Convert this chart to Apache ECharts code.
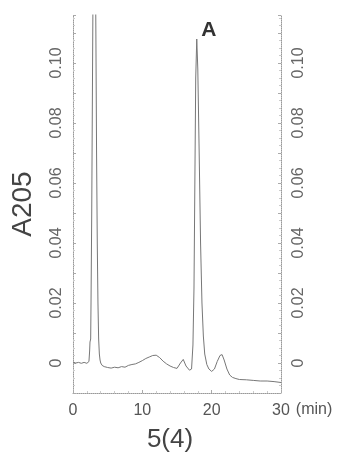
<!DOCTYPE html>
<html>
<head>
<meta charset="utf-8">
<script src="https://cdn.jsdelivr.net/npm/echarts@6/dist/echarts.min.js"></script>
<style>
	html, body { margin: 0; padding: 0; background: #fff; }
	#chart { width: 340px; height: 458px; }
</style>
</head>
<body>
<div id="chart"></div>
<script>
"use strict";

/*****Data start*****/
var times = [0, 0.4, 0.8, 1.2, 1.6, 2.0, 2.3, 2.4, 2.45, 2.5, 2.55, 2.6, 2.7, 2.8, 2.9, 3.0, 3.1, 3.2, 3.3, 3.4,
	3.5, 3.6, 3.7, 3.8, 3.9, 4.0, 4.2, 4.5, 5.0, 5.5, 6.0, 6.5, 7.0, 7.5, 8.0, 8.5, 9.0, 9.5, 10, 10.5,
	11, 11.5, 12, 12.5, 13, 13.5, 14, 14.5, 15, 15.5, 15.9, 16.3, 16.8, 17.1, 17.3, 17.45, 17.7, 17.85, 18.0, 18.2,
	18.4, 18.6, 18.8, 19.0, 19.3, 19.6, 20.0, 20.4, 20.8, 21.2, 21.5, 21.8, 22.2, 22.6, 23, 23.5, 24, 25, 26, 27,
	28, 29, 30];
var absorbance = [0.0003, 0.0000, 0.0002, -0.0001, 0.0002, -0.0001, 0.0005, 0.004, 0.007, 0.0065, 0.008, 0.02, 0.05, 0.09, 0.13, 0.2, 0.2, 0.15, 0.11, 0.07,
	0.04, 0.02, 0.008, 0.003, 0.001, 0.0, -0.0008, -0.0012, -0.0015, -0.0017, -0.0014, -0.0016, -0.0012, -0.0014, -0.0008, -0.0005, -0.0003, 0.0002, 0.0008, 0.0015,
	0.002, 0.0025, 0.0026, 0.0018, 0.0006, -0.0003, -0.001, -0.0015, -0.0018, 0.0, 0.0012, -0.001, -0.0024, -0.002, 0.006, 0.025, 0.095, 0.108, 0.098, 0.07,
	0.04, 0.02, 0.009, 0.003, -0.0005, -0.002, -0.0028, -0.002, 0.0005, 0.0025, 0.0028, 0.001, -0.002, -0.004, -0.0048, -0.0052, -0.0055, -0.0056, -0.0058, -0.006,
	-0.006, -0.0062, -0.0065];
var peakLabel = 'A';
var peakTime = 17.85;
var peakValue = 0.108;
var sampleName = '5(4)';
/*****Data end*****/

var points = [];
for (var i = 0; i < times.length; i++) {
	points.push([times[i], absorbance[i]]);
}

var fontFamily = "'Liberation Sans', Arial, sans-serif";

var yLabel = function (v) {
	var k = Math.round(v * 100);
	if (k < 0 || k > 10 || k % 2) return '';
	return k === 0 ? '0' : (k / 100).toFixed(2);
};

var yAxisBase = function (pos) {
	return {
		type: 'value',
		position: pos,
		min: -0.01,
		max: 0.116,
		interval: 0.01,
		axisLine: {
			show: true,
			onZero: false,
			lineStyle: { color: '#999', type: 'dotted', width: 1 }
		},
		axisTick: {
			show: true,
			inside: true,
			length: 3,
			lineStyle: { color: '#aaa' }
		},
		minorTick: {
			show: true,
			splitNumber: 4,
			length: 2,
			lineStyle: { color: '#ccc' }
		},
		splitLine: { show: false },
		axisLabel: {
			rotate: 90,
			margin: 10,
			color: '#666',
			fontSize: 16,
			fontFamily: fontFamily,
			formatter: yLabel
		}
	};
};

var leftAxis = yAxisBase('left');
leftAxis.axisLabel.margin = 8;
leftAxis.name = 'A205';
leftAxis.nameLocation = 'middle';
leftAxis.nameGap = 36;
leftAxis.nameTextStyle = { color: '#444', fontSize: 28, fontFamily: fontFamily };
var rightAxis = yAxisBase('right');

var chart = echarts.init(document.getElementById('chart'));
var option = {
	animation: false,
	title: {
		text: sampleName,
		left: 'center',
		top: 422,
		textStyle: { color: '#444', fontSize: 26, fontWeight: 'normal', fontFamily: fontFamily }
	},
	grid: { left: 73, right: 59, top: 15, bottom: 65 },
	xAxis: {
		type: 'value',
		min: 0,
		max: 30,
		interval: 10,
		name: '(min)',
		nameLocation: 'end',
		nameGap: 3,
		nameTextStyle: {
			color: '#555',
			fontSize: 16,
			fontFamily: fontFamily,
			verticalAlign: 'top',
			padding: [9, 0, 0, 0]
		},
		axisLine: {
			show: true,
			onZero: false,
			lineStyle: { color: '#999', type: 'dotted', width: 1 }
		},
		axisTick: {
			show: true,
			inside: true,
			length: 3,
			lineStyle: { color: '#aaa' }
		},
		minorTick: {
			show: true,
			splitNumber: 5,
			length: 2,
			lineStyle: { color: '#ccc' }
		},
		splitLine: { show: false },
		axisLabel: {
			margin: 10,
			color: '#555',
			fontSize: 16,
			fontFamily: fontFamily
		}
	},
	yAxis: [leftAxis, rightAxis],
	series: [
		{
			type: 'line',
			data: points,
			yAxisIndex: 0,
			symbol: 'none',
			clip: true,
			lineStyle: { color: '#777', width: 1 },
			markPoint: {
				symbol: 'circle',
				symbolSize: 0,
				data: [{ coord: [peakTime, peakValue] }],
				label: {
					show: true,
					formatter: peakLabel,
					offset: [12, -9],
					color: '#333',
					fontSize: 21,
					fontWeight: 'bold',
					fontFamily: fontFamily
				}
			}
		}
	]
};
chart.setOption(option);
</script>
</body>
</html>
